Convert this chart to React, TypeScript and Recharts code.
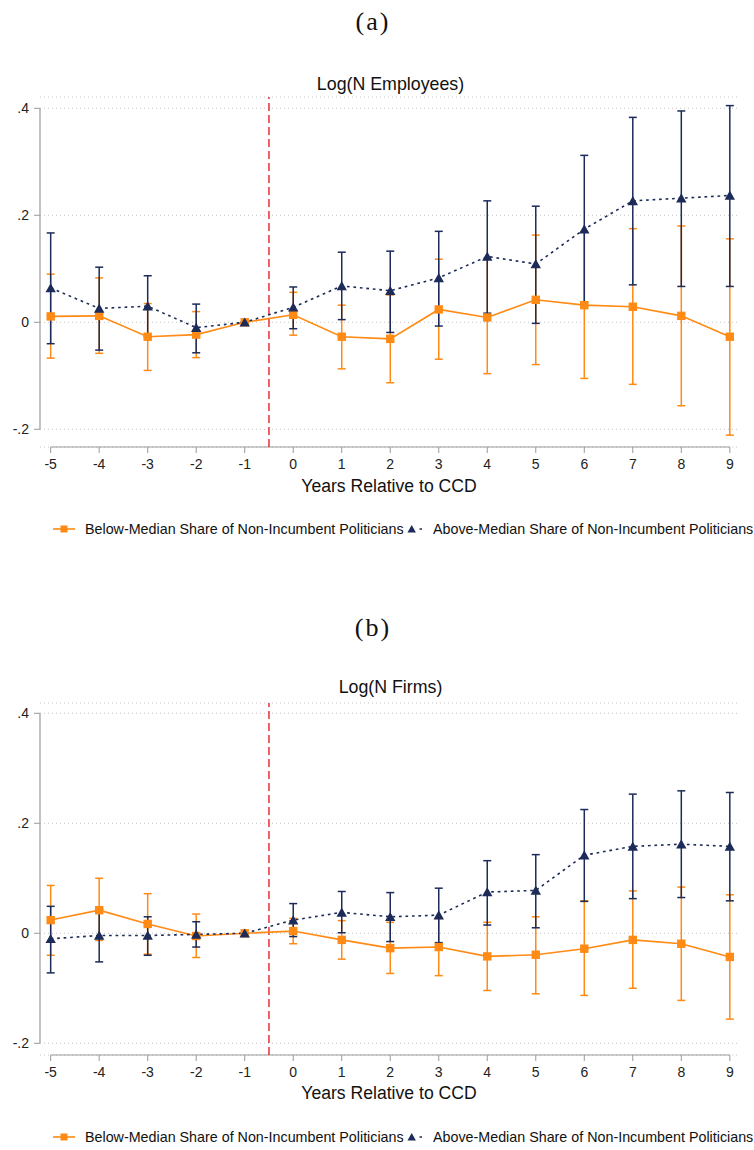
import React from "react";
import {
  LineChart,
  Line,
  XAxis,
  YAxis,
  CartesianGrid,
  ReferenceLine,
  ErrorBar,
} from "recharts";

const years = [-5, -4, -3, -2, -1, 0, 1, 2, 3, 4, 5, 6, 7, 8, 9];
const yTicks = [-0.2, 0, 0.2, 0.4];

// Panel (a): Log(N Employees)
const aBelow = [0.011, 0.012, -0.027, -0.023, 0, 0.014, -0.027, -0.031, 0.024, 0.009, 0.042, 0.032, 0.029, 0.012, -0.027];
const aBelowLo = [-0.067, -0.058, -0.09, -0.066, 0, -0.024, -0.087, -0.113, -0.069, -0.096, -0.079, -0.105, -0.116, -0.156, -0.211];
const aBelowHi = [0.09, 0.083, 0.035, 0.02, 0, 0.056, 0.032, 0.051, 0.118, 0.118, 0.163, 0.169, 0.175, 0.18, 0.156];
const aAbove = [0.064, 0.026, 0.03, -0.01, 0, 0.028, 0.068, 0.059, 0.083, 0.123, 0.109, 0.174, 0.227, 0.232, 0.237];
const aAboveLo = [-0.04, -0.052, -0.027, -0.057, 0, -0.012, 0.005, -0.019, -0.007, 0.017, -0.002, 0.037, 0.07, 0.067, 0.067];
const aAboveHi = [0.167, 0.103, 0.087, 0.034, 0, 0.066, 0.131, 0.133, 0.17, 0.227, 0.217, 0.312, 0.383, 0.395, 0.405];

// Panel (b): Log(N Firms)
const bBelow = [0.024, 0.042, 0.017, -0.005, 0, 0.004, -0.012, -0.027, -0.025, -0.042, -0.039, -0.028, -0.012, -0.019, -0.043];
const bBelowLo = [-0.04, -0.013, -0.038, -0.044, 0, -0.019, -0.047, -0.073, -0.077, -0.104, -0.11, -0.113, -0.1, -0.122, -0.156];
const bBelowHi = [0.087, 0.1, 0.072, 0.035, 0, 0.027, 0.023, 0.02, 0.027, 0.02, 0.03, 0.059, 0.077, 0.084, 0.07];
const bAbove = [-0.01, -0.004, -0.004, -0.002, 0, 0.024, 0.038, 0.03, 0.033, 0.075, 0.078, 0.142, 0.158, 0.162, 0.158];
const bAboveLo = [-0.072, -0.052, -0.04, -0.025, 0, -0.006, 0.001, -0.015, -0.017, 0.015, 0.01, 0.058, 0.063, 0.065, 0.059];
const bAboveHi = [0.049, 0.044, 0.03, 0.021, 0, 0.054, 0.076, 0.074, 0.082, 0.132, 0.143, 0.225, 0.253, 0.259, 0.256];

const belowLabel = "Below-Median Share of Non-Incumbent Politicians";
const aboveLabel = "Above-Median Share of Non-Incumbent Politicians";
const xTitle = "Years Relative to CCD";

const ORANGE = "#ff8a14";
const NAVY = "#1c2b58";
const RED = "#e8202a";
const AXIS = "#9a9a9a";
const SANS = "'Liberation Sans', Arial, Helvetica, sans-serif";
const SERIF = "'Liberation Serif', 'Times New Roman', serif";

function buildRows(below: number[], bLo: number[], bHi: number[], above: number[], aLo: number[], aHi: number[]) {
  return years.map((x, i) => ({
    x,
    below: below[i],
    belowErr: [below[i] - bLo[i], bHi[i] - below[i]],
    above: above[i],
    aboveErr: [above[i] - aLo[i], aHi[i] - above[i]],
  }));
}

const fmtY = (v: number) => {
  if (v === 0) return "0";
  const s = String(Math.round(v * 10) / 10);
  return s.replace("0.", ".");
};

const SquareDot = (props: any) => {
  const { cx, cy, index } = props;
  if (cx == null || cy == null) return <g key={`s-${index}`} />;
  return <rect key={`s-${index}`} x={cx - 4.2} y={cy - 4.2} width={8.4} height={8.4} fill={ORANGE} />;
};

const TriangleDot = (props: any) => {
  const { cx, cy, index } = props;
  if (cx == null || cy == null) return <g key={`t-${index}`} />;
  const pts = `${cx - 5.2},${cy + 4.3} ${cx + 5.2},${cy + 4.3} ${cx},${cy - 4.9}`;
  return <polygon key={`t-${index}`} points={pts} fill={NAVY} />;
};

type PanelProps = {
  top: number;
  height: number;
  marginTop: number;
  marginBottom: number;
  yMin: number;
  yMax: number;
  rows: any[];
};

const X_MIN = -5.22;
const X_MAX = 9.21;

function Panel({ top, height, marginTop, marginBottom, yMin, yMax, rows }: PanelProps) {
  return (
    <div style={{ position: "absolute", left: 0, top, width: 754, height }}>
      <LineChart
        width={754}
        height={height}
        data={rows}
        margin={{ top: marginTop, right: 14, bottom: marginBottom, left: 0 }}
      >
        <CartesianGrid vertical={false} stroke="#c4c4c4" strokeDasharray="1 3" />
        <XAxis
          dataKey="x"
          type="number"
          domain={[X_MIN, X_MAX]}
          allowDataOverflow
          ticks={years}
          interval={0}
          axisLine={false}
          tickLine={{ stroke: AXIS }}
          tickSize={6}
          tickMargin={6}
          height={30}
          tick={{ fill: "#222", fontSize: 14, fontFamily: SANS }}
        />
        <YAxis
          type="number"
          domain={[yMin, yMax]}
          allowDataOverflow
          ticks={yTicks}
          interval={0}
          tickFormatter={fmtY}
          axisLine={false}
          tickLine={{ stroke: AXIS }}
          tickSize={6}
          tickMargin={5}
          width={40}
          tick={{ fill: "#222", fontSize: 14, fontFamily: SANS }}
        />
        <ReferenceLine
          segment={[{ x: X_MIN, y: -0.2 }, { x: X_MIN, y: 0.4 }]}
          stroke={AXIS}
          strokeWidth={1.2}
          ifOverflow="visible"
        />
        <ReferenceLine
          segment={[{ x: -5, y: yMin }, { x: 9, y: yMin }]}
          stroke={AXIS}
          strokeWidth={1.2}
          ifOverflow="visible"
        />
        <ReferenceLine x={-0.5} stroke={RED} strokeWidth={1.4} strokeDasharray="8 4" />
        <Line
          dataKey="below"
          type="linear"
          stroke={ORANGE}
          strokeWidth={1.6}
          dot={SquareDot}
          activeDot={false}
          isAnimationActive={false}
        >
          <ErrorBar dataKey="belowErr" direction="y" stroke={ORANGE} strokeWidth={1.5} width={4} />
        </Line>
        <Line
          dataKey="above"
          type="linear"
          stroke={NAVY}
          strokeWidth={1.6}
          strokeDasharray="2.7 3.8"
          dot={TriangleDot}
          activeDot={false}
          isAnimationActive={false}
        >
          <ErrorBar dataKey="aboveErr" direction="y" stroke={NAVY} strokeWidth={1.5} width={4} />
        </Line>
      </LineChart>
    </div>
  );
}

const centered = (x: number, y: number, extra: React.CSSProperties): React.CSSProperties => ({
  position: "absolute",
  left: x,
  top: y,
  transform: "translate(-50%, -50%)",
  whiteSpace: "nowrap",
  lineHeight: 1,
  ...extra,
});

function Legend({ y }: { y: number }) {
  return (
    <>
      <svg style={{ position: "absolute", left: 0, top: y - 10, overflow: "visible" }} width={754} height={20}>
        <line x1={53} y1={10} x2={75} y2={10} stroke={ORANGE} strokeWidth={1.6} />
        <rect x={60.5} y={6.5} width={7} height={7} fill={ORANGE} />
        <polygon points={`${407.5},${13.6} ${415.9},${13.6} ${411.7},${6.0}`} fill={NAVY} />
        <line x1={419.5} y1={10} x2={422} y2={10} stroke={NAVY} strokeWidth={1.5} />
      </svg>
      <div style={{ position: "absolute", left: 85, top: y, transform: "translateY(-50%)", lineHeight: 1, whiteSpace: "nowrap", fontFamily: SANS, fontSize: 14.3, color: "#111" }}>
        {belowLabel}
      </div>
      <div style={{ position: "absolute", left: 433, top: y, transform: "translateY(-50%)", lineHeight: 1, whiteSpace: "nowrap", fontFamily: SANS, fontSize: 14.3, color: "#111" }}>
        {aboveLabel}
      </div>
    </>
  );
}

export default function App() {
  const rowsA = buildRows(aBelow, aBelowLo, aBelowHi, aAbove, aAboveLo, aAboveHi);
  const rowsB = buildRows(bBelow, bBelowLo, bBelowHi, bAbove, bAboveLo, bAboveHi);
  return (
    <div style={{ position: "absolute", left: 0, top: 0, width: 754, height: 1150, background: "#fff", overflow: "hidden" }}>
      <div style={centered(373, 22, { fontFamily: SERIF, fontSize: 26, letterSpacing: 2, color: "#111" })}>(a)</div>
      <div style={centered(390.5, 85, { fontFamily: SANS, fontSize: 17.8, color: "#111" })}>Log(N Employees)</div>
      <Panel top={0} height={480} marginTop={97} marginBottom={3} yMin={-0.2331} yMax={0.4211} rows={rowsA} />
      <div style={centered(389, 487, { fontFamily: SANS, fontSize: 17.6, color: "#111" })}>{xTitle}</div>
      <Legend y={529} />

      <div style={centered(373, 628, { fontFamily: SERIF, fontSize: 26, letterSpacing: 2, color: "#111" })}>(b)</div>
      <div style={centered(390.5, 688, { fontFamily: SANS, fontSize: 17.8, color: "#111" })}>Log(N Firms)</div>
      <Panel top={600} height={490} marginTop={103} marginBottom={5} yMin={-0.2213} yMax={0.4187} rows={rowsB} />
      <div style={centered(389, 1094, { fontFamily: SANS, fontSize: 17.6, color: "#111" })}>{xTitle}</div>
      <Legend y={1137} />
    </div>
  );
}
